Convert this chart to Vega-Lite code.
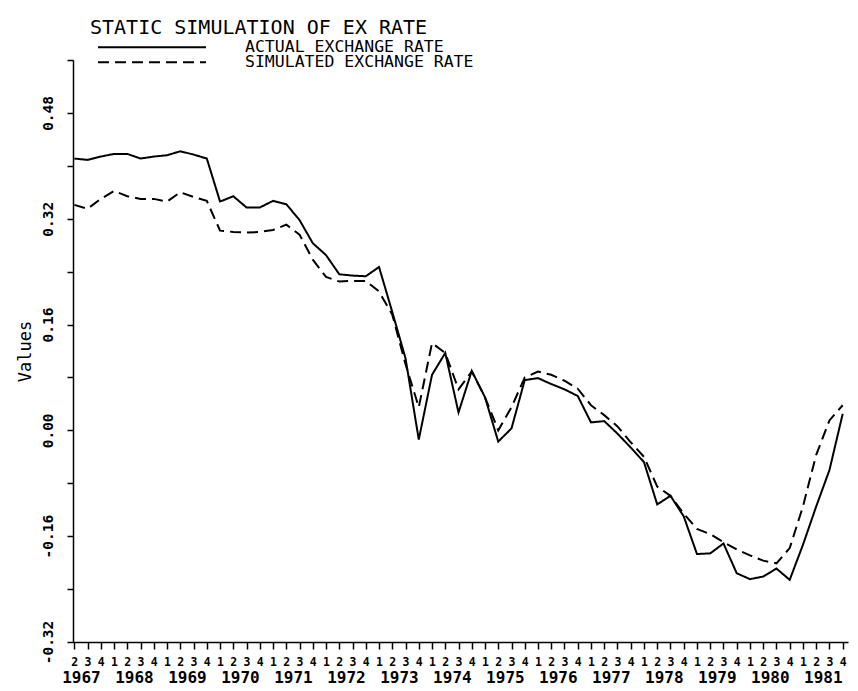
{
  "$schema": "https://vega.github.io/schema/vega-lite/v6.json",
  "width": 775,
  "height": 582,
  "autosize": {"type": "none"},
  "padding": {"left": 73, "top": 60, "right": 10, "bottom": 49},
  "background": "white",
  "title": {
    "text": "STATIC SIMULATION OF EX RATE",
    "anchor": "start",
    "frame": "group",
    "font": "DejaVu Sans Mono",
    "fontSize": 20,
    "fontWeight": "normal",
    "color": "black",
    "baseline": "alphabetic",
    "dx": 17,
    "dy": 19,
    "offset": 6
  },
  "data": {
    "values": [
      {"t": 0, "period": "1967Q2", "actual": 0.411, "simulated": 0.341},
      {"t": 1, "period": "1967Q3", "actual": 0.409, "simulated": 0.335},
      {"t": 2, "period": "1967Q4", "actual": 0.414, "simulated": 0.350},
      {"t": 3, "period": "1968Q1", "actual": 0.418, "simulated": 0.362},
      {"t": 4, "period": "1968Q2", "actual": 0.418, "simulated": 0.354},
      {"t": 5, "period": "1968Q3", "actual": 0.411, "simulated": 0.350},
      {"t": 6, "period": "1968Q4", "actual": 0.414, "simulated": 0.350},
      {"t": 7, "period": "1969Q1", "actual": 0.416, "simulated": 0.346},
      {"t": 8, "period": "1969Q2", "actual": 0.422, "simulated": 0.360},
      {"t": 9, "period": "1969Q3", "actual": 0.417, "simulated": 0.353},
      {"t": 10, "period": "1969Q4", "actual": 0.411, "simulated": 0.347},
      {"t": 11, "period": "1970Q1", "actual": 0.346, "simulated": 0.302},
      {"t": 12, "period": "1970Q2", "actual": 0.354, "simulated": 0.300},
      {"t": 13, "period": "1970Q3", "actual": 0.337, "simulated": 0.299},
      {"t": 14, "period": "1970Q4", "actual": 0.337, "simulated": 0.300},
      {"t": 15, "period": "1971Q1", "actual": 0.347, "simulated": 0.303},
      {"t": 16, "period": "1971Q2", "actual": 0.342, "simulated": 0.311},
      {"t": 17, "period": "1971Q3", "actual": 0.318, "simulated": 0.296},
      {"t": 18, "period": "1971Q4", "actual": 0.283, "simulated": 0.258},
      {"t": 19, "period": "1972Q1", "actual": 0.265, "simulated": 0.232},
      {"t": 20, "period": "1972Q2", "actual": 0.236, "simulated": 0.225},
      {"t": 21, "period": "1972Q3", "actual": 0.234, "simulated": 0.226},
      {"t": 22, "period": "1972Q4", "actual": 0.233, "simulated": 0.226},
      {"t": 23, "period": "1973Q1", "actual": 0.247, "simulated": 0.210},
      {"t": 24, "period": "1973Q2", "actual": 0.179, "simulated": 0.175},
      {"t": 25, "period": "1973Q3", "actual": 0.109, "simulated": 0.100},
      {"t": 26, "period": "1973Q4", "actual": -0.014, "simulated": 0.035},
      {"t": 27, "period": "1974Q1", "actual": 0.084, "simulated": 0.132},
      {"t": 28, "period": "1974Q2", "actual": 0.117, "simulated": 0.117},
      {"t": 29, "period": "1974Q3", "actual": 0.027, "simulated": 0.062},
      {"t": 30, "period": "1974Q4", "actual": 0.090, "simulated": 0.089},
      {"t": 31, "period": "1975Q1", "actual": 0.050, "simulated": 0.050},
      {"t": 32, "period": "1975Q2", "actual": -0.017, "simulated": 0.000},
      {"t": 33, "period": "1975Q3", "actual": 0.003, "simulated": 0.035},
      {"t": 34, "period": "1975Q4", "actual": 0.076, "simulated": 0.080},
      {"t": 35, "period": "1976Q1", "actual": 0.079, "simulated": 0.089},
      {"t": 36, "period": "1976Q2", "actual": 0.070, "simulated": 0.084},
      {"t": 37, "period": "1976Q3", "actual": 0.062, "simulated": 0.075},
      {"t": 38, "period": "1976Q4", "actual": 0.052, "simulated": 0.063},
      {"t": 39, "period": "1977Q1", "actual": 0.012, "simulated": 0.038},
      {"t": 40, "period": "1977Q2", "actual": 0.014, "simulated": 0.023},
      {"t": 41, "period": "1977Q3", "actual": -0.005, "simulated": 0.006},
      {"t": 42, "period": "1977Q4", "actual": -0.026, "simulated": -0.018},
      {"t": 43, "period": "1978Q1", "actual": -0.048, "simulated": -0.040},
      {"t": 44, "period": "1978Q2", "actual": -0.112, "simulated": -0.085},
      {"t": 45, "period": "1978Q3", "actual": -0.099, "simulated": -0.099},
      {"t": 46, "period": "1978Q4", "actual": -0.130, "simulated": -0.126},
      {"t": 47, "period": "1979Q1", "actual": -0.187, "simulated": -0.149},
      {"t": 48, "period": "1979Q2", "actual": -0.186, "simulated": -0.157},
      {"t": 49, "period": "1979Q3", "actual": -0.171, "simulated": -0.169},
      {"t": 50, "period": "1979Q4", "actual": -0.216, "simulated": -0.180},
      {"t": 51, "period": "1980Q1", "actual": -0.225, "simulated": -0.189},
      {"t": 52, "period": "1980Q2", "actual": -0.221, "simulated": -0.197},
      {"t": 53, "period": "1980Q3", "actual": -0.209, "simulated": -0.201},
      {"t": 54, "period": "1980Q4", "actual": -0.226, "simulated": -0.178},
      {"t": 55, "period": "1981Q1", "actual": -0.173, "simulated": -0.115},
      {"t": 56, "period": "1981Q2", "actual": -0.115, "simulated": -0.037},
      {"t": 57, "period": "1981Q3", "actual": -0.060, "simulated": 0.015},
      {"t": 58, "period": "1981Q4", "actual": 0.025, "simulated": 0.038}
    ]
  },
  "transform": [
    {"fold": ["actual", "simulated"], "as": ["series", "value"]}
  ],
  "mark": {"type": "line", "color": "black", "strokeWidth": 2, "clip": true},
  "encoding": {
    "x": {
      "field": "t",
      "type": "quantitative",
      "scale": {"domain": [-0.1, 58.4], "nice": false, "zero": false},
      "axis": {
        "title": null,
        "grid": false,
        "values": [0,0.5,1,2,3,4,4.5,5,6,7,8,8.5,9,10,11,12,12.5,13,14,15,16,16.5,17,18,19,20,20.5,21,22,23,24,24.5,25,26,27,28,28.5,29,30,31,32,32.5,33,34,35,36,36.5,37,38,39,40,40.5,41,42,43,44,44.5,45,46,47,48,48.5,49,50,51,52,52.5,53,54,55,56,56.5,57,58],
        "labelExpr": "datum.value % 1 == 0 ? '' + ((datum.value + 1) % 4 + 1) : '' + (1967 + (datum.value - 0.5) / 4)",
        "labelOverlap": false,
        "labelBound": false,
        "labelFlush": false,
        "labelFont": "DejaVu Sans Mono",
        "labelFontWeight": "bold",
        "labelFontSize": {"condition": {"test": "datum.value % 1 == 0", "value": 11.5}, "value": 16},
        "labelBaseline": "top",
        "labelPadding": {"condition": {"test": "datum.value % 1 == 0", "value": 7}, "value": 20},
        "labelColor": "black",
        "tickSize": 7,
        "tickWidth": 1.5,
        "tickColor": "black",
        "tickOpacity": {"condition": {"test": "datum.value % 1 == 0", "value": 1}, "value": 0},
        "domainColor": "black",
        "domainWidth": 1.5
      }
    },
    "y": {
      "field": "value",
      "type": "quantitative",
      "scale": {"domain": [-0.32, 0.56], "nice": false, "zero": false},
      "axis": {
        "title": "Values",
        "titleFont": "DejaVu Sans Mono",
        "titleFontSize": 17,
        "titleFontWeight": "normal",
        "titleColor": "black",
        "titleX": -43,
        "titleY": 291,
        "titleBaseline": "alphabetic",
        "titleAngle": -90,
        "titleAlign": "center",
        "grid": false,
        "values": [-0.32, -0.24, -0.16, -0.08, 0, 0.08, 0.16, 0.24, 0.32, 0.40, 0.48, 0.56],
        "labelExpr": "round(datum.value * 100) % 16 == 0 ? replace(format(datum.value, '.2f'), '\u2212', '-') : ''",
        "labelAngle": -90,
        "labelAlign": "center",
        "labelBaseline": "alphabetic",
        "labelPadding": 15,
        "labelFont": "DejaVu Sans Mono",
        "labelFontSize": 14.5,
        "labelFontWeight": "bold",
        "labelColor": "black",
        "labelOverlap": false,
        "labelBound": false,
        "labelFlush": false,
        "tickSize": 6,
        "tickWidth": 1.5,
        "tickColor": "black",
        "domainColor": "black",
        "domainWidth": 1.5
      }
    },
    "strokeDash": {
      "field": "series",
      "type": "nominal",
      "scale": {"domain": ["actual", "simulated"], "range": [[1, 0], [11, 6]]},
      "legend": {
        "title": null,
        "orient": "none",
        "legendX": 24,
        "legendY": -19,
        "padding": 0,
        "symbolType": "stroke",
        "symbolSize": 11664,
        "symbolStrokeWidth": 2,
        "symbolStrokeColor": "black",
        "clipHeight": 12.5,
        "rowPadding": -10,
        "labelOffset": 38,
        "labelFont": "DejaVu Sans Mono",
        "labelFontSize": 16.5,
        "labelFontWeight": "normal",
        "labelColor": "black",
        "labelLimit": 400,
        "labelExpr": "datum.label == 'actual' ? 'ACTUAL EXCHANGE RATE' : 'SIMULATED EXCHANGE RATE'"
      }
    }
  },
  "config": {
    "view": {"stroke": null}
  }
}
